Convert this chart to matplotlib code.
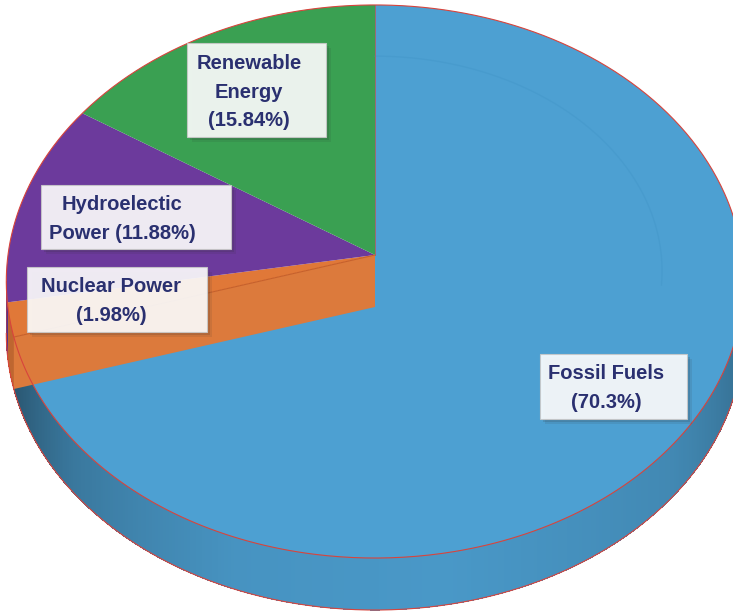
import numpy as np
import matplotlib.pyplot as plt
from matplotlib.patches import Polygon, Rectangle

# energy mix, slices run clockwise from 12 o'clock
sources = ['Fossil Fuels', 'Nuclear Power', 'Hydroelectic Power', 'Renewable Energy']
shares = [70.3, 1.98, 11.88, 15.84]
label_fmt = ['Fossil Fuels\n({}%)', 'Nuclear Power\n({}%)',
             'Hydroelectic\nPower ({}%)', 'Renewable\nEnergy\n({}%)']
colors = ['#4DA0D2', '#E07838', '#6C3A9C', '#3AA052']

# label boxes (x0, y0, x1, y1) and text centres, in pixels
boxes = [(540, 354, 687, 419), (27, 267, 207, 332), (41, 185, 231, 249), (187, 43, 326, 137)]
text_pos = [(606, 388), (111, 301), (122, 219), (249, 92)]

# tilted disc seen in perspective
cx, cy = 375, 255          # screen position of the disc centre
A, B, k = 367, 274, 0.0958  # half width, half height, perspective factor
depth = 52


def proj(theta, r=1.0):
    u, v = r * np.cos(theta), r * np.sin(theta)
    w = 1 + k * v
    return cx + A * u / w, cy - B * v / w


def rgb(c):
    c = c.lstrip('#')
    return np.array([int(c[i:i + 2], 16) for i in (0, 2, 4)]) / 255.0


fig = plt.figure(figsize=(7.33, 6.12), dpi=100)
ax = fig.add_axes([0, 0, 1, 1])
ax.set_xlim(0, 733)
ax.set_ylim(612, 0)
ax.axis('off')

edges = np.radians(90 - 3.6 * np.concatenate([[0], np.cumsum(shares)]))

# side wall of the disc (front half only), shaded by angle
th_left = -np.pi + np.arcsin(k)
th_right = -np.arcsin(k)
shade_deg = [-175, -160, -140, -110, -80, -40, -15, -5]
shade_val = [0.40, 0.55, 0.75, 0.92, 0.95, 0.85, 0.70, 0.55]
for i in range(len(shares)):
    lo = max(edges[i + 1], th_left)
    hi = min(edges[i], th_right)
    if lo >= hi:
        continue
    steps = np.linspace(lo, hi, max(3, int(np.degrees(hi - lo) * 2)))
    base = rgb(colors[i])
    for a, b in zip(steps[:-1], steps[1:]):
        b2 = min(b + (b - a) * 0.6, hi)
        xa, ya = proj(a)
        xb, yb = proj(b2)
        s = np.interp(np.degrees((a + b) / 2), shade_deg, shade_val)
        if i > 0:
            s = max(s, 0.85)
        col = np.clip(base * s, 0, 1)
        ax.add_patch(Polygon([(xa, ya), (xb, yb), (xb, yb + depth), (xa, ya + depth)],
                             closed=True, facecolor=col, edgecolor='none',
                             antialiased=False, zorder=1))

# top faces
for i in range(len(shares)):
    t = np.linspace(edges[i], edges[i + 1], 200)
    x, y = proj(t)
    pts = [(cx, cy)] + list(zip(x, y))
    ax.add_patch(Polygon(pts, closed=True, facecolor=colors[i], edgecolor='none', zorder=2))

# faint ring on the large slice
t = np.linspace(np.radians(90), np.radians(-8), 200)
x, y = proj(t, 0.78)
ax.plot(x, y, color='#3F93C6', lw=1.0, alpha=0.35, zorder=3)

# cut face of the nuclear slice
xe, ye = proj(edges[1])
ax.add_patch(Polygon([(cx, cy), (xe, ye), (xe, ye + depth), (cx, cy + depth)],
                     closed=True, facecolor='#DC7A3C', edgecolor='none', zorder=4))
ax.plot([cx, xe], [cy, ye], color='#C8602A', lw=0.8, zorder=4)

# outlines
t = np.linspace(0, 2 * np.pi, 600)
x, y = proj(t)
ax.plot(x, y, color='#D8443C', lw=0.8, zorder=5)
t = np.linspace(th_left, th_right, 400)
x, y = proj(t)
ax.plot(x, y + depth, color='#D8443C', lw=0.8, zorder=5)
xl, yl = proj(th_left)
xr, yr = proj(th_right)
ax.plot([xl, xl], [yl, yl + depth], color='#D8443C', lw=0.6, alpha=0.5, zorder=5)
xt, yt = proj(np.pi / 2)
ax.plot([cx, xt], [cy, yt], color='#C0504A', lw=0.7, alpha=0.7, zorder=5)

# labels
for i in range(len(shares)):
    x0, y0, x1, y1 = boxes[i]
    w, h = x1 - x0, y1 - y0
    ax.add_patch(Rectangle((x0 + 5, y0 + 5), w, h, facecolor='#303030', alpha=0.10, lw=0, zorder=6))
    ax.add_patch(Rectangle((x0 + 3, y0 + 3), w, h, facecolor='#303030', alpha=0.16, lw=0, zorder=6))
    ax.add_patch(Rectangle((x0, y0), w, h, facecolor='white', alpha=0.9,
                           edgecolor='#C8C8C8', lw=0.8, zorder=7))
    tx, ty = text_pos[i]
    ax.text(tx, ty, label_fmt[i].format(shares[i]), ha='center', va='center',
            multialignment='center', fontsize=14.5, fontweight='bold',
            family='Liberation Sans', color='#2A3070', linespacing=1.65, zorder=8)

fig.savefig('out.png', dpi=100)
